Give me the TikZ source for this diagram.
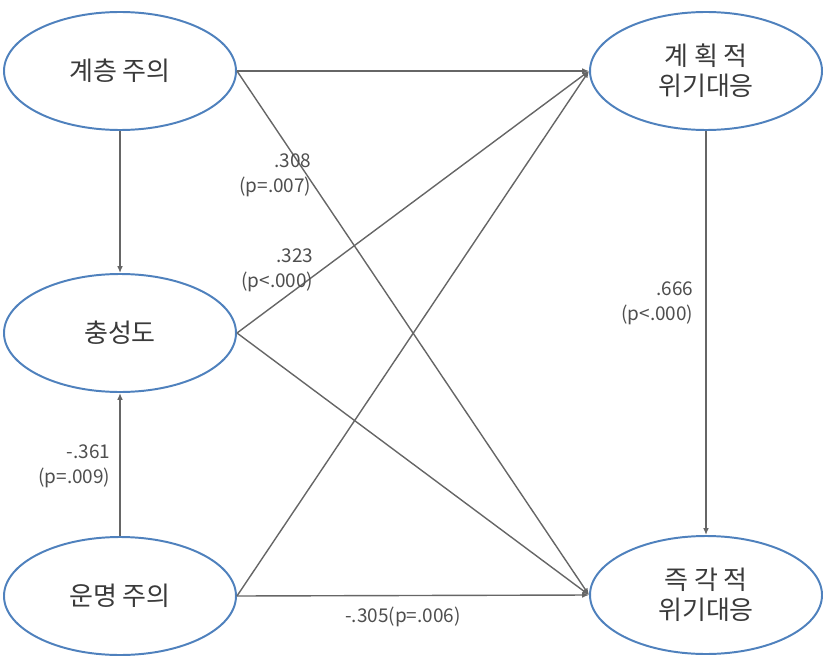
\documentclass[tikz,border=0pt]{standalone}
\usepackage{fontspec}
\setmainfont{Noto Sans CJK KR}
\usepackage{tikz}
\usetikzlibrary{arrows.meta,positioning,shapes.geometric}
\definecolor{ovalblue}{HTML}{4F81BD}
\definecolor{txtgray}{HTML}{3A3A3A}
\definecolor{linegray}{HTML}{666666}

\begin{document}
\begin{tikzpicture}[
  var/.style={ellipse, draw=ovalblue, line width=1.4pt, align=center,
              minimum width=5.8cm, minimum height=2.95cm, inner sep=0pt,
              text=txtgray, font=\fontsize{18.5}{21.5}\selectfont},
  coef/.style={align=right, text=txtgray!90, inner sep=1pt,
               font=\fontsize{13.5}{17.8}\selectfont},
  fl/.style={-{Latex[length=1.7mm,width=1.4mm]}, draw=linegray, line width=1pt}]
\useasboundingbox (0,0) rectangle (20.675,16.5);

% left column
\node[var] (hier) at (3.0,14.725) {계층 주의};
\node[var] (loyal) at (3.0,8.175) {충성도};
\node[var] (fate) at (3.0,1.6) {운명 주의};

% right column
\node[var] (plan) at (17.65,14.725) {계 획 적\\위기대응};
\node[var] (imm) at (17.65,1.625) {즉 각 적\\위기대응};

% paths
\draw[fl] (hier.south) -- (loyal.north);
\draw[fl] (fate.north) -- (loyal.south);
\draw[fl] (hier.east) -- (plan.west);
\draw[fl] (hier.east) -- (imm.west);
\draw[fl] (loyal.east) -- (plan.west);
\draw[fl] (loyal.east) -- (imm.west);
\draw[fl] (fate.east) -- (plan.west);
\draw[fl] (fate.east) -- (imm.west);
\draw[fl] (plan.south) -- (imm.north);

% coefficients
\node[coef, anchor=east] (c308) at (7.825,12.125) {.308\\(p=.007)};
\node[coef, anchor=east] (c323) at (7.875,9.75) {.323\\(p<.000)};
\node[coef, anchor=east] (c666) at (17.375,8.925) {.666\\(p<.000)};
\node[coef, anchor=east] (c361) at (2.8,4.85) {-.361\\(p=.009)};
\node[coef] (c305) at (10.075,1.075) {-.305(p=.006)};
\end{tikzpicture}
\end{document}
